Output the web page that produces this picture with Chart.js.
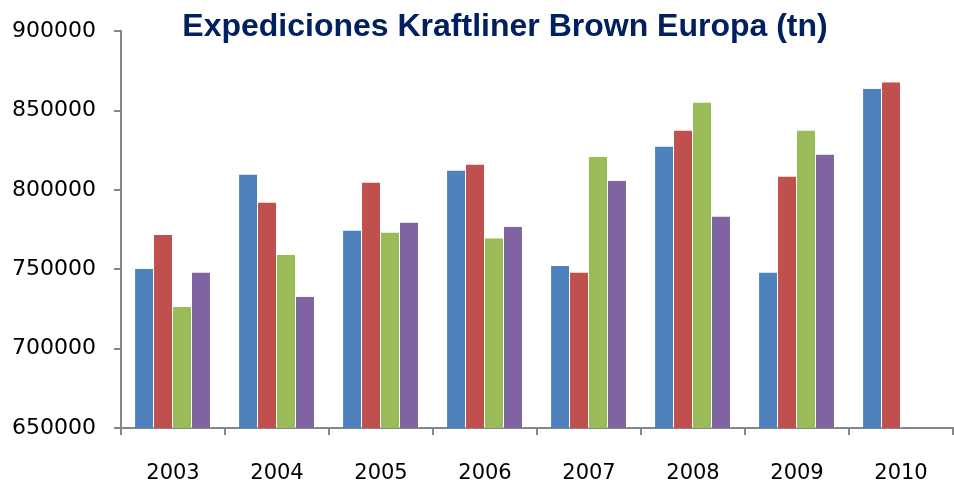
<!DOCTYPE html>
<html>
<head>
<meta charset="utf-8">
<script src="https://cdn.jsdelivr.net/npm/chart.js@4.4.1/dist/chart.umd.min.js"></script>
<style>
  body { margin: 0; background: #fff; }
</style>
</head>
<body>
<canvas id="grafico" width="954" height="483"></canvas>
<script>
const anios = ['2003', '2004', '2005', '2006', '2007', '2008', '2009', '2010']

// valores (tn), cuatro series por año
const serie1 = [750400, 809700, 774500, 812200, 752000, 827400, 748000, 863700]
const serie2 = [771600, 792100, 804700, 816000, 748000, 837400, 808500, 867900]
const serie3 = [726300, 759200, 773200, 769600, 820900, 855100, 837400, null]
const serie4 = [748000, 732700, 779500, 776800, 805800, 783300, 822300, null]

const colores = ['#4F81BD', '#C0504D', '#9BBB59', '#8064A2']
const titulo = 'Expediciones Kraftliner Brown Europa (tn)'

const gris = '#868686'

// titulo dibujado a mano porque se superpone con el area del grafico
const pluginTitulo = {
  id: 'titulo',
  afterDraw(chart) {
    const ctx = chart.ctx
    ctx.save()
    ctx.font = 'bold 32px "Liberation Sans", Arial, sans-serif'
    ctx.fillStyle = '#002060'
    ctx.textAlign = 'center'
    ctx.textBaseline = 'alphabetic'
    ctx.fillText(titulo, 505, 36)
    ctx.restore()
  }
}

const series = [serie1, serie2, serie3, serie4].map((valores, i) => {
  return {
    label: 'Serie ' + (i + 1),
    data: valores,
    backgroundColor: colores[i],
    borderColor: 'rgba(255,255,255,0.4)',
    borderWidth: { left: 0, right: 1, top: 0, bottom: 0 },
    categoryPercentage: 0.73,
    barPercentage: 1
  }
})

const ctx = document.getElementById('grafico').getContext('2d')

const myChart = new Chart(ctx, {
  type: 'bar',
  data: {
    labels: anios,
    datasets: series
  },
  options: {
    responsive: false,
    animation: false,
    layout: { padding: { top: 30, right: 1, left: 0, bottom: 0 } },
    plugins: {
      legend: { display: false },
      title: { display: false },
      tooltip: { enabled: false }
    },
    scales: {
      x: {
        afterFit: (scale) => { scale.height = 55 },
        border: { color: gris, width: 2 },
        grid: {
          offset: true,
          drawOnChartArea: false,
          drawTicks: true,
          tickLength: 7,
          color: gris,
          lineWidth: 2
        },
        ticks: {
          color: '#000',
          padding: 26,
          font: { family: '"DejaVu Sans"', size: 21 }
        }
      },
      y: {
        min: 650000,
        max: 900000,
        afterFit: (scale) => { scale.width = 121 },
        border: { color: gris, width: 2 },
        grid: {
          drawOnChartArea: false,
          drawTicks: true,
          tickLength: 7,
          color: gris,
          lineWidth: 2
        },
        ticks: {
          stepSize: 50000,
          color: '#000',
          padding: 18,
          font: { family: '"DejaVu Sans"', size: 22 },
          callback: (valor) => String(valor)
        }
      }
    }
  },
  plugins: [pluginTitulo]
})
</script>
</body>
</html>
